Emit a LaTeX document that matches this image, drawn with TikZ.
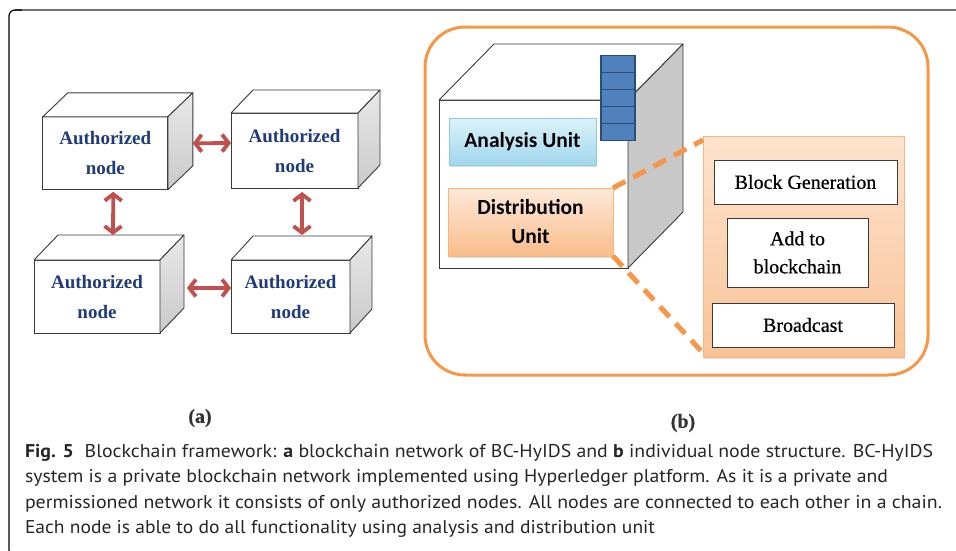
\documentclass[tikz,border=0pt]{standalone}
\usepackage{graphicx}
\usepackage{fontspec}
\setmainfont{Liberation Serif}
\newfontfamily\semiserif[FakeBold=0.6]{Liberation Serif}
\newfontfamily\capfont{PT Sans}
\newfontfamily\unitfont{Carlito}
\usetikzlibrary{arrows.meta,calc,shadows}
\definecolor{navy}{HTML}{1F3B7A}
\definecolor{redarr}{HTML}{C0504D}
\definecolor{orng}{HTML}{F79646}
\definecolor{orEdge}{HTML}{F9B580}
\definecolor{sidegray}{HTML}{C8C8C8}
\definecolor{stackblue}{HTML}{4F81BD}
\definecolor{stackedge}{HTML}{2C4D75}
\definecolor{cyanTop}{HTML}{DDF2FA}
\definecolor{cyanBot}{HTML}{9FD7EC}
\definecolor{cyanEdge}{HTML}{8FCBE3}
\definecolor{orTop}{HTML}{FDE9D9}
\definecolor{orBot}{HTML}{F9BC8A}
\definecolor{panTop}{HTML}{FDE3CF}
\definecolor{panBot}{HTML}{F9C396}
\definecolor{edge}{HTML}{3A3A3A}
\newcommand\fitw[2]{\resizebox{#1}{\height}{#2}}
\newcommand\cubefaces[4]{%
  \path[topface] (#1.north west) -- ++(#2,#3) -- ($(#1.north east)+(#2,#3)$) -- (#1.north east) -- cycle;
  \path[#4] (#1.north east) -- ++(#2,#3) -- ($(#1.south east)+(#2,#3)$) -- (#1.south east) -- cycle;}
\begin{document}
\begin{tikzpicture}[x=1pt,y=-1pt,
  front/.style={draw=edge, line width=0.9pt, fill=white, inner sep=0pt, outer sep=0pt, align=center},
  authbox/.style={front, minimum height=73pt, font=\fontsize{19}{30}\selectfont\bfseries, text=navy},
  topface/.style={draw=edge, line width=0.9pt, fill=white, line join=round},
  smallside/.style={draw=edge, line width=0.9pt, line join=round, top color=gray!18, bottom color=gray!42},
  bigside/.style={draw=edge, line width=0.9pt, line join=round, fill=sidegray},
  dbl/.style={draw=redarr, line width=3.8pt, {Straight Barb[length=6.5pt,width=17pt]}-{Straight Barb[length=6.5pt,width=17pt]}},
  cell/.style={draw=stackedge, fill=stackblue, line width=1.3pt, minimum width=34pt, minimum height=17pt, inner sep=0pt, outer sep=0pt},
  unit/.style={line width=0.9pt, inner sep=0pt, outer sep=0pt, align=center, font=\unitfont\fontsize{21.5}{29}\selectfont\bfseries,
    drop shadow={shadow xshift=1pt, shadow yshift=-2pt, opacity=0.25}},
  inbox/.style={draw=edge, line width=1pt, fill=white, inner sep=0pt, outer sep=0pt, align=center, font=\semiserif\fontsize{20}{28}\selectfont},
  dsh/.style={draw=orng, line width=5pt, dash pattern=on 14pt off 9pt},
  captext/.style={inner sep=0pt, outer sep=0pt, anchor=base west, font=\capfont\fontsize{18.5}{22}\selectfont, text=black!85},
  lab/.style={inner sep=0pt, font=\semiserif\fontsize{20}{20}\selectfont\bfseries, text=black!80}]
\useasboundingbox (0,0) rectangle (956,550);
% frame
\draw[black!55, line width=2pt] (956,10) -- (15,10);
\draw[black, line width=1.2pt, rounded corners=6pt] (22,10) -- (9,10) -- (9,556) -- (30,556);

% ---------- (a) network ----------
\node[authbox, minimum width=125pt] (B1) at (105.3,153.3) {Authorized\\node};
\cubefaces{B1}{25}{-24}{smallside}
\node[authbox, minimum width=127pt, minimum height=75pt] (B2) at (294.5,150.5) {Authorized\\node};
\cubefaces{B2}{22}{-23}{smallside}
\node[authbox, minimum width=126pt] (B3) at (97,296.5) {Authorized\\node};
\cubefaces{B3}{24}{-25}{smallside}
\node[authbox, minimum width=119pt] (B4) at (290.5,296.5) {Authorized\\node};
\cubefaces{B4}{22}{-24}{smallside}

\draw[dbl] ($(B1.east)+(25,-10)$) -- ($(B2.west)+(0,-7.5)$);
\draw[dbl] ($(B1.south)+(8,2)$) -- ($(B3.north)+(16,-25)$);
\draw[dbl] ($(B2.south)+(7.5,4)$) -- ($(B4.north)+(11.5,-25)$);
\draw[dbl] ($(B3.east)+(27,-8.5)$) -- ($(B4.west)+(0,-8.5)$);

\node[lab] (la) at (200,418) {(a)};

% ---------- (b) node structure ----------
\node[draw=orng, line width=3pt, rounded corners=40pt, minimum width=503pt, minimum height=348pt, inner sep=0pt] (PB) at (676.5,201) {};
\node[front, minimum width=189pt, minimum height=168pt] (BC) at (533.5,184) {};
\cubefaces{BC}{55}{-56}{bigside}

\node[cell] (s1) at (618,64.2) {};
\node[cell] (s2) at (618,81.2) {};
\node[cell] (s3) at (618,98.2) {};
\node[cell] (s4) at (618,115.2) {};
\node[cell] (s5) at (618,132.2) {};

\node[unit, draw=cyanEdge, top color=cyanTop, bottom color=cyanBot, minimum width=147pt, minimum height=47pt] (AU) at (522.5,141.5) {Analysis Unit};
\node[unit, draw=orEdge, top color=orTop, bottom color=orBot, minimum width=165pt, minimum height=68pt] (DU) at (530.5,222) {Distribution\\Unit};

\node[draw=orEdge, line width=0.9pt, top color=panTop, bottom color=panBot, minimum width=201pt, minimum height=221pt, inner sep=0pt, outer sep=0pt,
  drop shadow={shadow xshift=1pt, shadow yshift=-2pt, opacity=0.25}] (OP) at (803.5,246.5) {};

\draw[dsh] (DU.north east) -- ([yshift=-4pt]OP.north west);
\draw[dsh] (DU.south east) -- ([yshift=4pt]OP.south west);

\node[inbox, minimum width=183pt, minimum height=44pt] (BG) at (805.5,182) {Block Generation};
\node[inbox, minimum width=141pt, minimum height=69pt] (AB) at (797.5,252.5) {Add to\\blockchain};
\node[inbox, minimum width=182pt, minimum height=44pt] (BR) at (803,325) {Broadcast};

\node[lab] (lb) at (683,423) {(b)};

% ---------- caption ----------
\node[captext] (c1) at (25,457) {\fitw{908pt}{\textbf{Fig. 5}\hspace{0.55em}Blockchain framework: \textbf{a} blockchain network of BC-HyIDS and \textbf{b} individual node structure. BC-HyIDS}};
\node[captext] (c2) at (25,482.5) {\fitw{863pt}{system is a private blockchain network implemented using Hyperledger platform. As it is a private and}};
\node[captext] (c3) at (25,508) {\fitw{917pt}{permissioned network it consists of only authorized nodes. All nodes are connected to each other in a chain.}};
\node[captext] (c4) at (25,533.5) {\fitw{630pt}{Each node is able to do all functionality using analysis and distribution unit}};
\end{tikzpicture}
\end{document}
